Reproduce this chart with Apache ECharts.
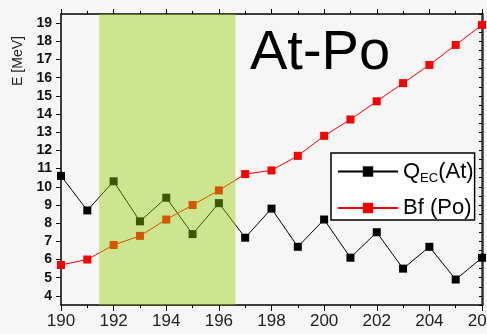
<!DOCTYPE html>
<html>
<head>
<meta charset="utf-8">
<script src="https://cdn.jsdelivr.net/npm/echarts@6/dist/echarts.min.js"></script>
<style>html,body{margin:0;padding:0;background:#f6f6f6;}#c{width:487px;height:334px;}</style>
</head>
<body>
<div id="c"></div>
<script>
const massNumbers = [190,191,192,193,194,195,196,197,198,199,200,201,202,203,204,205,206];
const qecAt = [10.6, 8.7, 10.3, 8.1, 9.4, 7.4, 9.1, 7.2, 8.8, 6.7, 8.2, 6.1, 7.5, 5.5, 6.7, 4.9, 6.1];
const bfPo = [5.7, 6.0, 6.8, 7.3, 8.2, 9.0, 9.8, 10.7, 10.9, 11.7, 12.8, 13.7, 14.7, 15.7, 16.7, 17.8, 18.9];
const yTickLabels = [4,5,6,7,8,9,10,11,12,13,14,15,16,17,18,19];
const bandRange = [191.45, 196.63];

const chart = echarts.init(document.getElementById('c'));
const font = 'Liberation Sans, Arial, sans-serif';
const pairs = arr => massNumbers.map((x, i) => [x, arr[i]]);
chart.setOption({
  animation: false,
  backgroundColor: '#f6f6f6',
  textStyle: { fontFamily: font },
  title: {
    text: 'At-Po', left: 245, top: 21,
    textStyle: { fontFamily: font, fontSize: 56, fontWeight: 'normal', color: '#000' }
  },
  grid: { left: 61, right: 5, top: 14, bottom: 29, show: true, backgroundColor: '#f6f6f6', borderWidth: 0,
          containLabel: false, outerBoundsMode: 'none' },
  graphic: [{
    type: 'text', x: 18, y: 61, rotation: Math.PI / 2,
    style: { text: 'E [MeV]', fontFamily: font, fontSize: 14, fill: '#222', align: 'center', verticalAlign: 'middle' }
  }],
  legend: {
    data: ['Q_EC(At)', 'Bf (Po)'],
    orient: 'vertical', left: 331, top: 153,
    backgroundColor: '#ffffff', borderColor: '#000', borderWidth: 1.5, borderRadius: 0,
    padding: [5, 1, 1, 6], itemGap: 12, itemWidth: 60, itemHeight: 13,
    formatter: function (name) {
      if (name === 'Q_EC(At)') return '{a|Q}{b|EC}{a|(At)}';
      return '{a|' + name + '}';
    },
    textStyle: {
      color: '#000',
      rich: {
        a: { fontFamily: font, fontSize: 22, lineHeight: 27, color: '#000' },
        b: { fontFamily: font, fontSize: 13, lineHeight: 27, color: '#000', padding: [14, 0, 0, 0] }
      }
    }
  },
  xAxis: [{
    type: 'value', min: 190, max: 206, interval: 2, position: 'bottom',
    axisLine: { lineStyle: { color: '#000', width: 1.5 } },
    axisTick: { inside: false, length: 6, lineStyle: { color: '#000' } },
    minorTick: { show: true, splitNumber: 2, length: 3, lineStyle: { color: '#000' } },
    axisLabel: { fontFamily: font, fontSize: 17, color: '#222', margin: 8 },
    splitLine: { show: false }
  }, {
    type: 'value', min: 190, max: 206, interval: 2, position: 'top',
    axisLine: { lineStyle: { color: '#000', width: 1.5 } },
    axisTick: { inside: false, length: 5, lineStyle: { color: '#000' } },
    minorTick: { show: true, splitNumber: 2, length: 3, lineStyle: { color: '#000' } },
    axisLabel: { show: false },
    splitLine: { show: false }
  }],
  yAxis: [{
    type: 'value', min: 3.5, max: 19.5, position: 'left',
    axisLine: { show: true, lineStyle: { color: '#000', width: 1.5 } },
    axisTick: { show: true, inside: false, length: 5, customValues: yTickLabels, lineStyle: { color: '#000' } },
    axisLabel: { fontFamily: font, fontSize: 14, fontWeight: 'bold', color: '#111', margin: 9, customValues: yTickLabels },
    splitLine: { show: false }
  }, {
    type: 'value', min: 3.5, max: 19.5, interval: 0.5, position: 'right',
    axisLine: { show: true, lineStyle: { color: '#333', width: 2.5 } },
    axisTick: { show: true, inside: true, length: 3, lineStyle: { color: '#000' } },
    axisLabel: { show: false },
    splitLine: { show: false }
  }],
  series: [{
    name: 'Q_EC(At)', type: 'line', data: pairs(qecAt),
    symbol: 'rect', symbolSize: 8, color: '#000',
    lineStyle: { color: '#000', width: 1 }, itemStyle: { color: '#000' }, z: 3
  }, {
    name: 'Bf (Po)', type: 'line', data: pairs(bfPo),
    symbol: 'rect', symbolSize: 8, color: '#ff0000',
    lineStyle: { color: '#ff0000', width: 1 }, itemStyle: { color: '#ff0000' }, z: 3
  }, {
    name: 'band', type: 'line', data: [], z: 10,
    markArea: {
      silent: true, z: 10,
      itemStyle: { color: 'rgba(150,205,0,0.42)' },
      data: [[{ xAxis: bandRange[0] }, { xAxis: bandRange[1] }]]
    }
  }]
});
</script>
</body>
</html>
